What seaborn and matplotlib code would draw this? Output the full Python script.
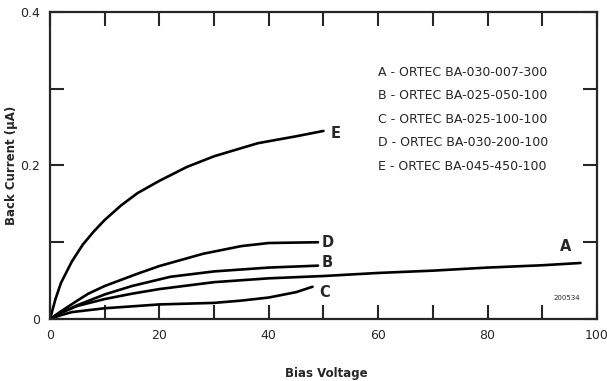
import pandas as pd
import matplotlib.pyplot as plt
from matplotlib.ticker import MultipleLocator
import seaborn as sns

sns.set_style("ticks")
plt.rcParams['font.family'] = ['DejaVu Sans']

# 곡선 데이터
volt_A = [0, 2, 5, 10, 15, 20, 30, 40, 50, 60, 70, 80, 90, 97]
curr_A = [0, 0.008, 0.017, 0.026, 0.033, 0.039, 0.048, 0.053, 0.056, 0.060, 0.063, 0.067, 0.070, 0.073]

volt_B = [0, 2, 5, 10, 15, 22, 30, 40, 49]
curr_B = [0, 0.008, 0.018, 0.032, 0.043, 0.055, 0.062, 0.067, 0.0695]

volt_C = [0, 2, 4, 10, 20, 30, 35, 40, 45, 48]
curr_C = [0, 0.005, 0.009, 0.014, 0.019, 0.021, 0.024, 0.028, 0.035, 0.042]

volt_D = [0, 2, 5, 7, 10, 16, 20, 28, 35, 40, 49]
curr_D = [0, 0.010, 0.024, 0.033, 0.043, 0.059, 0.069, 0.085, 0.095, 0.099, 0.100]

volt_E = [0, 1, 2, 4, 6, 8, 10, 13, 16, 20, 25, 30, 38, 45, 50]
curr_E = [0, 0.026, 0.047, 0.075, 0.097, 0.114, 0.129, 0.148, 0.164, 0.180, 0.198, 0.212, 0.229, 0.238, 0.245]

devices = ["A", "B", "C", "D", "E"]
models = ["ORTEC BA-030-007-300", "ORTEC BA-025-050-100", "ORTEC BA-025-100-100",
          "ORTEC BA-030-200-100", "ORTEC BA-045-450-100"]

frames = []
for name, v, c in zip(devices, [volt_A, volt_B, volt_C, volt_D, volt_E],
                      [curr_A, curr_B, curr_C, curr_D, curr_E]):
    frames.append(pd.DataFrame({"volt": v, "curr": c, "device": name}))
df = pd.concat(frames, ignore_index=True)

fig = plt.figure(figsize=(6.07, 3.81), dpi=100)
ax = fig.add_axes([0.0824, 0.1627, 0.901, 0.806])

sns.lineplot(data=df, x="volt", y="curr", hue="device", palette=["black"] * 5,
             sort=False, estimator=None, legend=False, linewidth=1.9, ax=ax)

ax.set_xlim(0, 100)
ax.set_ylim(0, 0.4)
ax.set_xticks([0, 20, 40, 60, 80, 100])
ax.set_xticklabels(["0", "20", "40", "60", "80", "100"])
ax.xaxis.set_minor_locator(MultipleLocator(10))
ax.set_yticks([0, 0.2, 0.4])
ax.set_yticklabels(["0", "0.2", "0.4"])
ax.yaxis.set_minor_locator(MultipleLocator(0.1))
ax.tick_params(which="both", direction="in", top=True, right=True,
               length=10, width=1.5, labelsize=9, pad=7)
for s in ax.spines.values():
    s.set_linewidth(1.6)

ax.set_xlabel("Bias Voltage", fontsize=8.5, fontweight="bold")
ax.xaxis.set_label_coords(0.505, -0.155)
ax.set_ylabel("Back Current (\u03bcA)", fontsize=8.5, fontweight="bold")
ax.yaxis.set_label_coords(-0.058, 0.5)

# 곡선 이름
lbl = dict(fontsize=10.5, fontweight="bold", va="center")
ax.text(51.3, 0.242, "E", **lbl)
ax.text(49.6, 0.1, "D", **lbl)
ax.text(49.6, 0.073, "B", **lbl)
ax.text(49.2, 0.035, "C", **lbl)
ax.text(94.2, 0.094, "A", ha="center", **lbl)

# 범례 텍스트
for i, (d, m) in enumerate(zip(devices, models)):
    ax.text(60.0, 0.321 - i * 0.0305, f"{d} - {m}", fontsize=9, va="center")

ax.text(94.5, 0.027, "200534", fontsize=5, ha="center", va="center")

plt.savefig("out.png", dpi=100)
plt.close()
